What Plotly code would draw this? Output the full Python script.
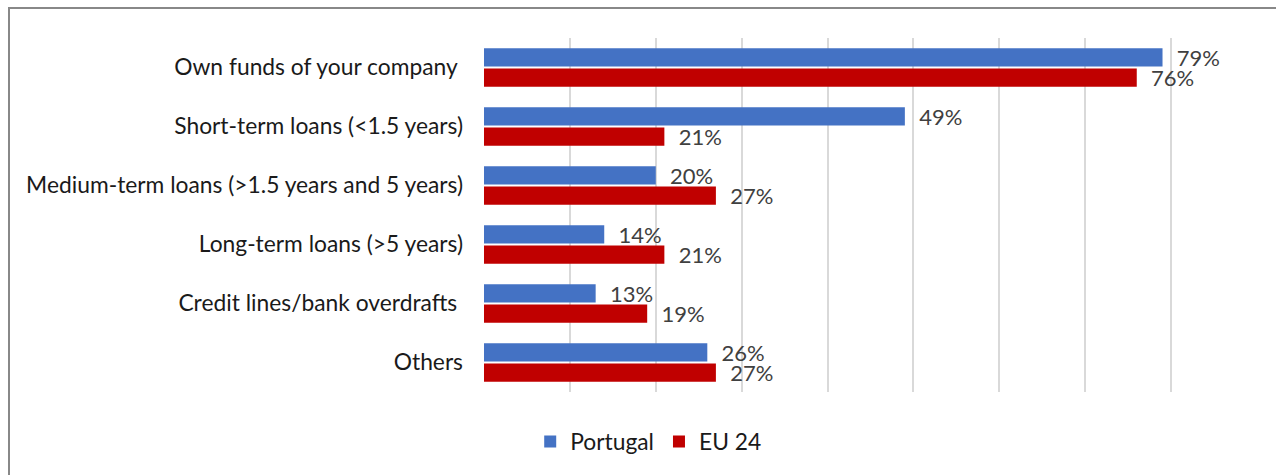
import plotly.graph_objects as go

categories = [
    "Own funds of your company ",
    "Short-term loans (<1.5 years)",
    "Medium-term loans (>1.5 years and 5 years)",
    "Long-term loans (>5 years)",
    "Credit lines/bank overdrafts ",
    "Others",
]
portugal = [79, 49, 20, 14, 13, 26]
eu24 = [76, 21, 27, 21, 19, 27]
x_ticks = [0, 10, 20, 30, 40, 50, 60, 70, 80, 90]

FONT = "Lato, 'Open Sans', sans-serif"
FS = 22.8

fig = go.Figure()
for name, vals, color in [
    ("Portugal", portugal, "#4472C4"),
    ("EU 24", eu24, "#C00000"),
]:
    fig.add_trace(go.Bar(
        name=name,
        y=categories,
        x=vals,
        orientation="h",
        marker=dict(color=color, line=dict(width=0)),
        text=[f"\u00a0\u00a0{v}%" for v in vals],
        textposition="outside",
        constraintext="none",
        cliponaxis=False,
        textfont=dict(family=FONT, size=22, color="#404040"),
    ))

W, H = 1276, 475
ml, mr, mt, mb = 484, 19, 38, 83
pw = W - ml - mr
ph = H - mt - mb

def px(x):
    return (x - ml) / pw

def py(y):
    return (H - mb - y) / ph

fig.update_layout(
    width=W,
    height=H,
    margin=dict(l=ml, r=mr, t=mt, b=mb, pad=0),
    paper_bgcolor="white",
    plot_bgcolor="white",
    barmode="group",
    bargap=0.31,
    bargroupgap=0.1,
    font=dict(family=FONT, size=FS, color="#1a1a1a"),
    xaxis=dict(
        range=[0, 90],
        tickvals=x_ticks,
        showticklabels=False,
        showgrid=True,
        gridcolor="#d9d9d9",
        gridwidth=1.5,
        zeroline=False,
        showline=False,
    ),
    yaxis=dict(
        autorange="reversed",
        showgrid=False,
        showline=False,
        ticks="",
        ticklabelstandoff=20,
        tickfont=dict(family=FONT, size=FS, color="#1a1a1a"),
    ),
    legend=dict(
        orientation="h",
        xref="container",
        x=0.508,
        xanchor="center",
        yref="container",
        y=0.07,
        yanchor="middle",
        font=dict(family=FONT, size=FS, color="#1a1a1a"),
        itemwidth=30,
        traceorder="normal",
    ),
    shapes=[
        dict(
            type="rect",
            xref="paper", yref="paper",
            x0=px(9), x1=px(1290),
            y0=py(490), y1=py(8),
            line=dict(color="#888888", width=2),
            fillcolor="rgba(0,0,0,0)",
            layer="below",
        )
    ],
)

fig.write_html("out.html")
